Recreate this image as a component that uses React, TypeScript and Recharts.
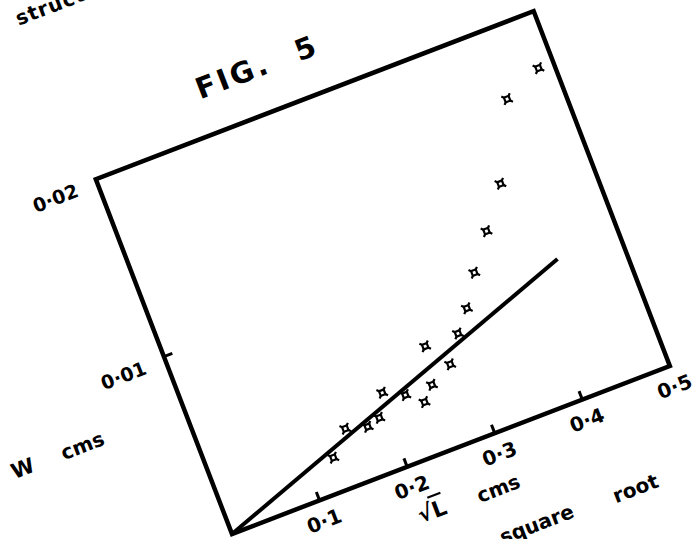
import { ComposedChart, Line, ReferenceArea, Scatter, XAxis, YAxis } from "recharts";

// values (sqrt L in cms, W in cms)
const sqrtL = [0.13, 0.153, 0.176, 0.191, 0.2035, 0.2256, 0.242, 0.256, 0.264, 0.282, 0.3015, 0.32, 0.341, 0.369, 0.401, 0.44, 0.483];
const widthW = [0.00184, 0.00304, 0.00271, 0.00293, 0.00411, 0.00356, 0.00285, 0.00356, 0.00558, 0.00422, 0.00559, 0.00666, 0.00827, 0.01008, 0.01215, 0.01618, 0.01711];
const fitX = [0, 0.429];
const fitY = [0, 0.00737];
const xTicks = [0.1, 0.2, 0.3, 0.4, 0.5];
const yTicks = [0.01, 0.02];

const points = sqrtL.map((x, i) => ({ x, y: widthW[i] }));
const fitLine = fitX.map((x, i) => ({ x, y: fitY[i] }));

const INK = "#000";
const FONT = "'DejaVu Sans', 'Liberation Sans', sans-serif";
const ANGLE = -21;
// plot origin inside the rotated box, and where it lands on the page
const X0 = 140;
const Y0 = 480;
const PAGE_X = 232;
const PAGE_Y = 534;

const dotLabel = (v: number, digits: number) => v.toFixed(digits).replace(".", "·");

function XTick({ x, y, payload }: any) {
  return (
    <g>
      <line x1={x} y1={y} x2={x} y2={y - 9} stroke={INK} strokeWidth={3} />
      <text x={x - 3} y={y + 21} textAnchor="middle" dominantBaseline="central" fontFamily={FONT} fontWeight={700} fontSize={20} fill={INK}>
        {dotLabel(payload.value, 1)}
      </text>
    </g>
  );
}

function YTick({ x, y, payload }: any) {
  return (
    <g>
      <line x1={x} y1={y} x2={x + 9} y2={y} stroke={INK} strokeWidth={3} />
      <text x={x - 21} y={y + 3} textAnchor="end" dominantBaseline="central" fontFamily={FONT} fontWeight={700} fontSize={19} fill={INK}>
        {dotLabel(payload.value, 2)}
      </text>
    </g>
  );
}

function Mark({ cx, cy }: any) {
  if (cx == null || cy == null) return null;
  return (
    <g stroke={INK} strokeWidth={2.2} fill="none">
      <rect x={cx - 2.5} y={cy - 2.5} width={5} height={5} />
      <line x1={cx - 2.5} y1={cy - 2.5} x2={cx - 4.5} y2={cy - 4.5} />
      <line x1={cx + 2.5} y1={cy + 2.5} x2={cx + 4.5} y2={cy + 4.5} />
      <line x1={cx + 2.5} y1={cy - 2.5} x2={cx + 4.5} y2={cy - 4.5} />
      <line x1={cx - 2.5} y1={cy + 2.5} x2={cx - 4.5} y2={cy + 4.5} />
    </g>
  );
}

function Notes() {
  // u: along the x axis from the origin, w: downwards from the x axis
  const t = (u: number, w: number) => ({ x: X0 + u, y: Y0 + w });
  const common = { fontFamily: FONT, fontWeight: 700, fill: INK } as const;
  return (
    <svg width={649} height={580} style={{ position: "absolute", left: 0, top: 0, overflow: "visible", pointerEvents: "none" }}>
      <text {...t(-17, -551)} {...common} fontSize={20} letterSpacing={1}>structure</text>
      <text {...t(126, -417)} {...common} fontSize={29} letterSpacing={3}>FIG.</text>
      <text {...t(232, -417)} {...common} fontSize={29}>5</text>
      <text {...t(-172, -136)} {...common} fontSize={21} textAnchor="middle" dominantBaseline="central">W</text>
      <text {...t(-108, -136)} {...common} fontSize={20} textAnchor="middle" dominantBaseline="central">cms</text>
      <text {...t(195, 50)} {...common} fontSize={22} textAnchor="middle" dominantBaseline="central">
        √<tspan textDecoration="overline">L</tspan>
      </text>
      <text {...t(265, 53)} {...common} fontSize={20} textAnchor="middle" dominantBaseline="central">cms</text>
      <text {...t(288, 100)} {...common} fontSize={20} textAnchor="middle" dominantBaseline="central">square</text>
      <text {...t(393, 102)} {...common} fontSize={20} textAnchor="middle" dominantBaseline="central">root</text>
    </svg>
  );
}

export default function App() {
  return (
    <div style={{ position: "absolute", left: 0, top: 0, width: 696, height: 539, overflow: "hidden", background: "#fff" }}>
      <div
        style={{
          position: "absolute",
          left: PAGE_X - X0,
          top: PAGE_Y - Y0,
          width: 649,
          height: 580,
          transformOrigin: `${X0}px ${Y0}px`,
          transform: `rotate(${ANGLE}deg)`,
        }}
      >
        <ComposedChart width={649} height={580} margin={{ top: 100, right: 40, bottom: 40, left: 80 }}>
          <XAxis type="number" dataKey="x" domain={[0, 0.5]} ticks={xTicks} height={60} axisLine={false} tickLine={false} tickSize={0} tickMargin={0} tick={<XTick />} allowDataOverflow />
          <YAxis type="number" dataKey="y" domain={[0, 0.02]} ticks={yTicks} width={60} axisLine={false} tickLine={false} tickSize={0} tickMargin={0} tick={<YTick />} allowDataOverflow />
          <ReferenceArea x1={0} x2={0.5} y1={0} y2={0.02} fill="none" stroke={INK} strokeWidth={4.5} strokeOpacity={1} fillOpacity={0} />
          <Line data={fitLine} dataKey="y" type="linear" stroke={INK} strokeWidth={4} dot={false} activeDot={false} isAnimationActive={false} />
          <Scatter data={points} dataKey="y" shape={<Mark />} isAnimationActive={false} />
        </ComposedChart>
        <Notes />
      </div>
    </div>
  );
}
